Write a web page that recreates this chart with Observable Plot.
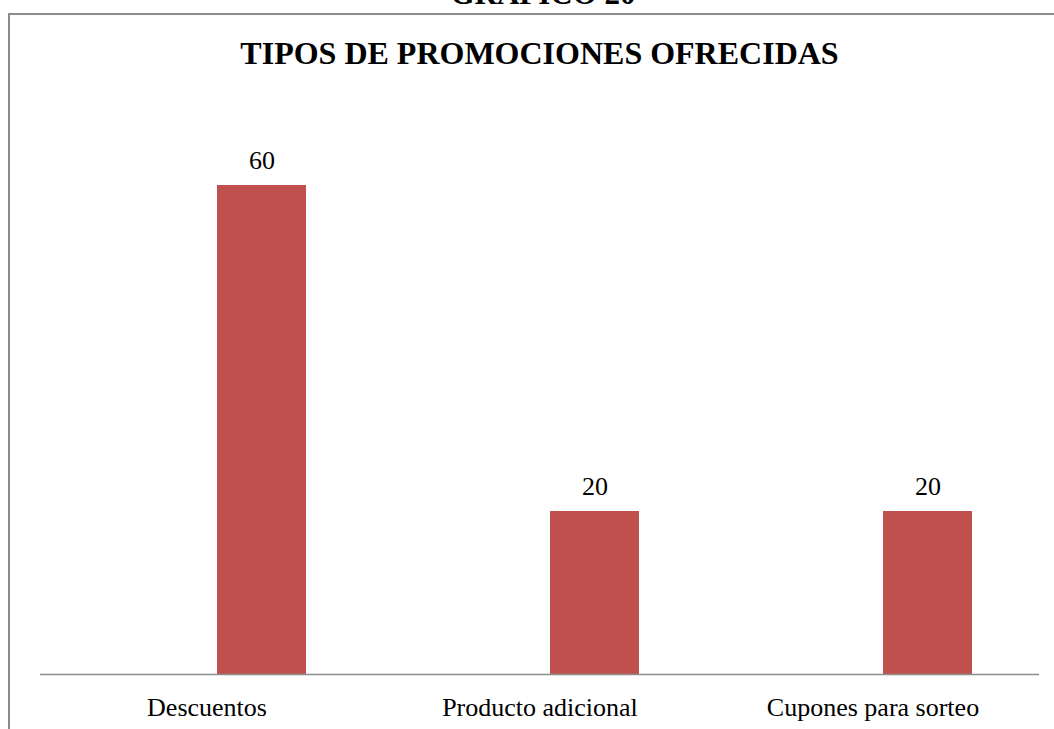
<!DOCTYPE html>
<html><head><meta charset="utf-8">
<script src="https://cdn.jsdelivr.net/npm/d3@7"></script>
<script src="https://cdn.jsdelivr.net/npm/@observablehq/plot@0.6"></script>
<style>
html,body{margin:0;padding:0;background:#fff;overflow:hidden}
#wrap{position:relative;width:1054px;height:729px;overflow:hidden}
#frame{position:absolute;left:8px;top:13px;width:1100px;height:800px;border-top:2px solid #8c8c8c;border-left:2px solid #8c8c8c}
#chart{position:absolute;left:0;top:0}
#chart svg, #chart svg text{font-family:"Liberation Serif","Times New Roman",Times,serif !important}
</style></head><body>
<div id="wrap"><div id="frame"></div><div id="chart"></div></div>
<script>
const categories = ["Descuentos", "Producto adicional", "Cupones para sorteo"];
const values = [60, 20, 20];
const chartTitle = "TIPOS DE PROMOCIONES OFRECIDAS";
const figureLabel = "GRÁFICO 20";

const data = categories.map((c, i) => ({categoria: c, valor: values[i]}));
const font = "\"Liberation Serif\", \"Times New Roman\", Times, serif";

const plot = Plot.plot({
  width: 1054, height: 729,
  marginLeft: 40, marginRight: 15, marginTop: 103.5, marginBottom: 55,
  style: {fontFamily: font, background: "transparent", color: "#000", overflow: "visible"},
  x: {domain: categories, padding: 0, axis: null},
  y: {domain: [0, 70], axis: null},
  marks: [
    Plot.barY(data, {x: "categoria", y: "valor", fill: "#c0504d", insetLeft: 177, insetRight: 67}),
    Plot.text(data, {x: "categoria", y: "valor", text: d => String(d.valor), dx: 55, dy: -25, fontSize: 26, fill: "#000"}),
    Plot.ruleY([0], {stroke: "#8c8c8c", strokeWidth: 1.5}),
    Plot.axisX({tickSize: 0, tickPadding: 23, fontSize: 26, fill: "#000", label: null})
  ]
});

const svg = d3.select(plot);
svg.append("text").attr("x", 539.5).attr("y", 64).attr("text-anchor", "middle")
  .style("font-family", font).attr("font-weight", "bold").attr("font-size", 32).attr("fill", "#000")
  .text(chartTitle);
svg.append("text").attr("x", 543).attr("y", 4).attr("text-anchor", "middle")
  .style("font-family", font).attr("font-weight", "bold").attr("font-size", 31).attr("fill", "#000")
  .text(figureLabel);

document.getElementById("chart").appendChild(plot);
</script>
</body></html>
